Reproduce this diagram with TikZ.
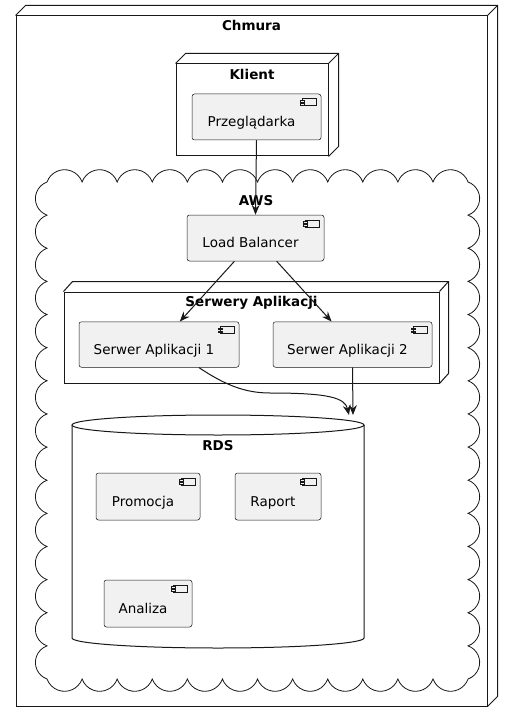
\documentclass[tikz,border=0pt]{standalone}
\usepackage{fontspec}
\setmainfont{DejaVu Sans}
\usetikzlibrary{positioning,arrows.meta}

\definecolor{umlline}{HTML}{181818}
\definecolor{umlfill}{HTML}{F1F1F1}

\tikzset{
  comp/.style={draw=umlline, fill=umlfill, line width=0.5pt, rounded corners=2.5pt,
    minimum height=46pt, inner ysep=3pt, inner xsep=0pt, text height=29.5pt, text depth=10pt,
    font=\fontsize{13.5}{16}\selectfont, execute at end node=\hspace{10pt}},
  icon/.style={draw=umlline, fill=umlfill, line width=0.5pt},
  grp/.style={draw=umlline, line width=1pt, inner sep=0pt},
  title/.style={inner sep=0pt, font=\bfseries\fontsize{13.5}{16}\selectfont},
  arr/.style={draw=umlline, line width=1pt, -{Stealth[length=10pt, width=8pt, inset=3.5pt]}}
}

\begin{document}
\begin{tikzpicture}[x=1pt, y=1pt]

\fill[white] (0,0) rectangle (512,-722);
\useasboundingbox (0,0) rectangle (512,-722);

% Chmura
\node[grp, minimum width=471pt, minimum height=690pt] (chmura) at (251.5,-361) {};
\node[title, below=5pt of chmura.north] (chmuraT) {Chmura};

% Klient
\node[grp, minimum width=152pt, minimum height=92pt] (klient) at (252,-110) {};
\node[title, below=6pt of klient.north] (klientT) {Klient};
\node[comp, minimum width=129pt] (przeg) at (256.5,-117) {Przeglądarka};

% 3D edges
\foreach \g in {chmura, klient} {
  \draw[grp] (\g.north west) -- ++(10,10) -- ([shift={(10,10)}]\g.north east)
    -- ([shift={(10,10)}]\g.south east) -- (\g.south east);
  \draw[grp] (\g.north east) -- ++(10,10);
}

%%%%%%%%%%%%%%%%%%%%%%%%%%%%%%%%%%%%%%%%%%%%%%%%%%%%%%%%%%%%%%%%%%%%%%%%%%%%%%%%%%%
% AWS cloud
\draw[umlline, line width=0.8pt] (47,-182)
  \foreach \i in {1,...,12} {arc[start angle=160, end angle=20, radius=18.67pt]}
  \foreach \i in {1,...,15} {arc[start angle=70, end angle=-70, radius=17.63pt]}
  \foreach \i in {1,...,12} {arc[start angle=-20, end angle=-160, radius=18.67pt]}
  \foreach \i in {1,...,15} {arc[start angle=-110, end angle=-250, radius=17.63pt]}
  -- cycle;
\node[title] (awsT) at (256,-201) {AWS};

\node[comp, minimum width=137pt] (lb) at (255.5,-238) {Load Balancer};

% Serwery Aplikacji
\node[grp, minimum width=375pt, minimum height=91pt] (serwery) at (251.5,-337.5) {};
\node[title, below=5pt of serwery.north] (serweryT) {Serwery Aplikacji};
\draw[grp] (serwery.north west) -- ++(9,10) -- ([shift={(9,10)}]serwery.north east)
  -- ([shift={(9,10)}]serwery.south east) -- (serwery.south east);
\draw[grp] (serwery.north east) -- ++(9,10);

\node[comp, minimum width=160pt, minimum height=45pt] (s1) at (159,-344.5) {Serwer Aplikacji 1};
\node[comp, minimum width=159pt, minimum height=45pt] (s2) at (352.5,-344.5) {Serwer Aplikacji 2};

% RDS
\draw[umlline, line width=1pt] (72,-425) -- (72,-638)
  arc[start angle=180, end angle=360, x radius=146pt, y radius=10pt] -- (364,-425);
\draw[umlline, line width=1pt] (218,-425) ellipse[x radius=146pt, y radius=10pt];
\node[title] (rdsT) at (218,-446) {RDS};
\coordinate (rdsA) at (349,-415);
\coordinate (rdsB) at (353,-415);

\node[comp, minimum width=104pt, minimum height=47pt] (prom) at (148,-496.5) {Promocja};
\node[comp, minimum width=86pt, minimum height=47pt] (rap) at (278,-496.5) {Raport};
\node[comp, minimum width=88pt, minimum height=47pt] (anal) at (148,-603.5) {Analiza};

% component icons
\foreach \c in {przeg, lb, s1, s2, prom, rap, anal} {
  \draw[icon] ([shift={(-19,-5)}]\c.north east) rectangle ++(14,-7);
  \draw[icon] ([shift={(-21,-6.5)}]\c.north east) rectangle ++(4,-1.7);
  \draw[icon] ([shift={(-21,-9.5)}]\c.north east) rectangle ++(4,-1.7);
}

%%%%%%%%%%%%%%%%%%%%%%%%%%%%%%%%%%%%%%%%%%%%%%%%%%%%%%%%%%%%%%%%%%%%%%%%%%%%%%%%%%%
\draw[arr] (przeg.south) -- (lb.north);
\draw[arr] (lb) -- (s1);
\draw[arr] (lb) -- (s2);
\draw[arr] (s1.-30) .. controls (225,-385) and (245,-393) .. (270,-393)
  .. controls (330,-393) and (345,-398) .. (rdsA);
\draw[arr] (s2.south) -- (rdsB);

\end{tikzpicture}
\end{document}
